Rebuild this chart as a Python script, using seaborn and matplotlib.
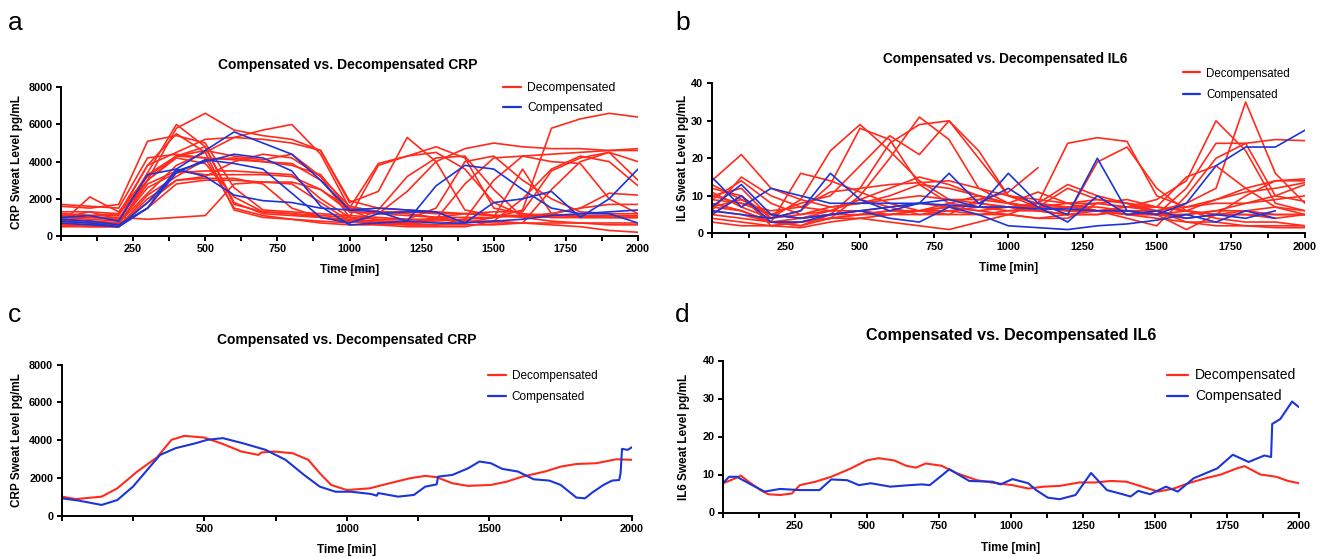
import pandas as pd
import matplotlib
matplotlib.use("Agg")
import matplotlib.pyplot as plt
from matplotlib.lines import Line2D
from matplotlib.ticker import MultipleLocator, FuncFormatter
import seaborn as sns

RED = '#FF2B1C'
BLUE = '#1B35D9'
GROUPS = ['Decompensated', 'Compensated']

# time points (min) for the per-patient curves in panels a and b
time_ab = list(range(0, 2001, 100))

# panel a: CRP sweat level per patient (pg/mL)
crp_decomp = [
    [1600, 1500, 1700, 5100, 5400, 5000, 2600, 1400, 1300, 1200, 1100, 1000, 900, 900, 800, 800, 700, 600, 500, 300, 200],
    [1200, 1100, 1200, 3000, 5800, 6600, 5700, 5400, 5200, 4600, 1900, 1500, 1400, 1300, 1200, 1100, 1100, 1000, 1000, 1000, 1000],
    [1000, 1300, 900, 3400, 6000, 4800, 1700, 1300, 1200, 1100, 1000, 3800, 4300, 4800, 4200, 1500, 1200, 1100, 1100, 1000, 1000],
    [800, 700, 700, 2300, 3800, 4500, 5300, 5700, 6000, 4400, 1500, 1300, 1300, 1200, 1200, 1100, 1100, 1100, 1100, 1100, 1100],
    [1000, 1000, 1000, 900, 1000, 1100, 2800, 2900, 2900, 2500, 1300, 1200, 2400, 4000, 4700, 5000, 4800, 4700, 4700, 4600, 4700],
    [700, 2100, 1300, 3200, 4300, 4600, 4300, 4100, 4400, 3200, 1600, 1300, 1200, 1000, 800, 700, 700, 700, 700, 700, 700],
    [600, 600, 600, 3000, 4200, 3900, 2100, 1300, 1200, 1000, 800, 700, 700, 600, 700, 1000, 1400, 5800, 6300, 6600, 6400],
    [900, 800, 700, 2800, 3500, 3300, 3300, 3300, 3200, 2500, 1500, 3900, 4300, 4500, 3600, 1800, 1100, 1000, 1000, 1000, 1000],
    [1300, 1300, 1200, 3800, 4500, 5200, 5300, 5200, 5000, 4600, 1800, 2400, 5300, 4000, 1400, 1100, 1000, 1200, 1500, 1700, 1700],
    [800, 700, 600, 1800, 3000, 3200, 4000, 4400, 4200, 3200, 1000, 700, 600, 600, 900, 3000, 4300, 4400, 4500, 4600, 4600],
    [600, 500, 500, 2200, 3200, 4100, 4200, 4000, 3800, 3300, 1400, 800, 700, 900, 2800, 4200, 4300, 4000, 3900, 2000, 1200],
    [1100, 1000, 900, 3000, 4300, 4800, 1800, 1200, 1100, 1000, 900, 800, 800, 800, 900, 1000, 3600, 1200, 1000, 1000, 1000],
    [700, 600, 500, 2000, 3000, 3100, 3100, 2800, 1500, 1000, 800, 700, 600, 600, 600, 600, 700, 2500, 4000, 4500, 4000],
    [1700, 1600, 1500, 4200, 4400, 4200, 4100, 4000, 3900, 3000, 1300, 1200, 1100, 1000, 1000, 1000, 1100, 1200, 1500, 2300, 2200],
    [900, 800, 700, 2600, 3400, 3500, 3500, 3400, 3300, 2000, 1000, 900, 900, 1500, 4000, 4300, 3000, 2000, 1300, 1200, 1200],
    [1000, 900, 800, 3300, 4300, 4200, 1500, 1100, 900, 700, 600, 600, 700, 1000, 1200, 1300, 1300, 3500, 4200, 4500, 3000],
    [500, 500, 500, 1500, 2800, 3000, 3000, 2900, 2800, 1800, 800, 600, 500, 500, 500, 800, 2000, 3600, 4300, 4000, 2700],
    [1200, 1100, 1100, 3800, 5500, 4500, 1400, 1000, 900, 800, 700, 1400, 3200, 4200, 4300, 2500, 1000, 800, 700, 600, 600],
]
crp_comp = [
    [1000, 1100, 800, 3300, 3600, 3200, 2200, 1900, 1800, 1500, 1400, 1500, 1400, 1300, 700, 1800, 2000, 2400, 1000, 2000, 3600],
    [900, 800, 600, 1500, 3600, 4600, 5600, 5000, 4400, 3000, 1400, 1300, 800, 2700, 3800, 3600, 2500, 1500, 1200, 1200, 700],
    [700, 600, 500, 1800, 3500, 4000, 4400, 4200, 3500, 1600, 600, 700, 800, 700, 700, 800, 900, 1100, 1200, 1300, 1400],
    [800, 700, 500, 1500, 3400, 4100, 3900, 3600, 2300, 1000, 700, 1200, 1300, 1300, None, None, None, None, None, None, None],
]

# panel b: IL6 sweat level per patient (pg/mL)
il6_decomp = [
    [14, 21, 12, 9, 7, 8, 10, 13, 12, 10, 8, 7, 6, 6, 5, 5, 4, 5, 6, 7, 6],
    [10, 8, 5, 4, 6, 9, 12, 15, 13, 10, 8, 7, 8, 9, 8, 7, 6, 5, 5, 5, 5],
    [12, 10, 4, 9, 22, 29, 22, 14, 9, 8, 7, 7, 6, 6, 5, 5, 5, 6, 6, 5, 5],
    [8, 6, 3, 2, 5, 12, 24, 29, 30, 20, 10, 8, 7, 7, 6, 5, 5, 6, 8, 10, 13],
    [6, 5, 3, 2, 4, 10, 20, 31, 25, 12, 8, 6, 5, 5, 6, 5, 6, 9, 12, 14, 14],
    [10, 12, 4, 6, 13, 28, 25, 13, 8, 7, 6, 6, 5, 6, 5, 4, 3, 3, 2, 2, 2],
    [7, 9, 5, 8, 10, 18, 26, 21, 30, 22, 10, 7, 6, 6, 7, 7, 6, 5, 5, 4, 5],
    [9, 8, 6, 7, 11, 12, 13, 13.5, 14, 12, 10, 9, 8, 8, 7, 6, 7, 9, 11, 12, 13.5],
    [5, 4, 3, 4, 5, 6, 7, 8, 7, 6, 7, 8, 24, 25.5, 24.5, 10, 7, 8, 8, 9, 10],
    [4, 3, 2, 3, 4, 5, 6, 6, 7, 6, 5, 4, 5, 19, 23, 12, 6, 4, 3, 3, 2],
    [11, 7, 4, 5, 7, 8, 9, 10, 9, 9, 11, 17.5, None, None, None, None, None, None, None, None, None],
    [3, 2, 2, 3, 4, 4, 5, 5, 6, 7, 7, 6, 5, 5, 6, 6, 8, 12, 35, 16, 8],
    [8, 6, 3, 3, 4, 5, 5, 6, 7, 8, 7, 6, 7, 8, 7, 9, 14, 30, 22, 8, 6],
    [13, 9, 5, 4, 5, 5, 6, 6, 5, 5, 6, 7, 7, 6, 6, 5, 12, 24, 24, 25, 24.7],
    [9, 14, 8, 5, 6, 9, 7, 5, 5, 9, 8, 7, 12, 9, 8, 6, 3, 2, 2, 1.5, 1.5],
    [5, 10, 2, 1.5, 3, 4, 3, 2, 1, 3, 5, 8, 13, 10, 8, 5, 1, 5, 10, 14, 14.5],
    [7, 6, 3, 16, 14, 11, 8, 6, 8, 10, 8, 11, 8, 6, 4, 2, 10, 20, 24, 10, 8.5],
    [6, 15, 10, 7, 6, 6, 5, 6, 6, 5, 5, 4, 4, 8, 9, 7, 15, 18, 12, 7, 5],
]
il6_comp = [
    [15, 7, 12, 10, 8, 8, 8, 8, 7.5, 7, 7, 6.5, 6.5, 6, 6, None, None, None, None, None, None],
    [6, 5, 4, 6, 16, 9, 6, 8, 16, 8, 12, 7, 3, 10, 5, 6, 4, 5, 4, 6, None],
    [7, 13, 5, 4, 5, 6, 7, 8, 9, 7, 16, 8, 5, 20, 6, 5, 8, 18, 23, 23, 27.5],
    [5, 10, 3, 3, 5, 6, 4, 3, 7, 5, 2, 1.5, 1, 2, 2.5, 3.5, 5, 3, 6, 4, None],
]

# panel c: mean CRP per group
crp_decomp_avg_t = [0, 50, 140, 195, 265, 335, 385, 430, 500, 565, 630, 690, 700, 745, 810, 865, 905, 945, 1000, 1080,
                    1150, 1220, 1275, 1315, 1370, 1425, 1505, 1560, 1615, 1695, 1750, 1805, 1875, 1945, 2000]
crp_decomp_avg = [1010, 880, 1010, 1450, 2340, 3100, 4020, 4230, 4140, 3800, 3400, 3220, 3350, 3400, 3310, 2960, 2250, 1630, 1360, 1450,
                  1720, 1980, 2110, 2040, 1720, 1580, 1630, 1800, 2070, 2340, 2600, 2740, 2780, 2990, 2960]
crp_comp_avg_t = [0, 60, 140, 195, 250, 320, 345, 400, 470, 510, 565, 635, 715, 785, 850, 905, 960, 1015, 1085, 1105,
                  1110, 1180, 1235, 1275, 1315, 1320, 1370, 1425, 1465, 1505, 1545, 1600, 1655, 1710, 1750, 1805, 1835, 1860, 1900, 1930,
                  1955, 1960, 1965, 1985, 2000]
crp_comp_avg = [920, 800, 570, 830, 1540, 2780, 3220, 3580, 3840, 4020, 4110, 3840, 3490, 2960, 2160, 1540, 1270, 1270, 1150, 1060,
                1200, 1010, 1100, 1540, 1660, 2070, 2160, 2510, 2870, 2780, 2480, 2340, 1930, 1860, 1630, 960, 920, 1220, 1630, 1860,
                1890, 2250, 3540, 3490, 3630]

# panel d: mean IL6 per group
il6_decomp_avg_t = [0, 27, 62, 89, 130, 157, 198, 239, 267, 321, 376, 444, 499, 540, 595, 636, 670, 704, 759, 813, 882,
                    950, 1005, 1060, 1114, 1169, 1237, 1292, 1347, 1401, 1456, 1511, 1565, 1620, 1675, 1729, 1784, 1811,
                    1866, 1921, 1962, 2000]
il6_decomp_avg = [7.7, 8.5, 9.7, 8.1, 5.9, 4.8, 4.6, 5.0, 7.2, 8.1, 9.4, 11.6, 13.7, 14.3, 13.7, 12.3, 11.8, 12.9, 12.3, 10.3, 8.5,
                  7.7, 7.2, 6.3, 6.8, 7.0, 7.9, 7.9, 8.3, 8.1, 6.8, 5.5, 6.3, 7.8, 9.0, 10.0, 11.6, 12.2,
                  10.0, 9.4, 8.3, 7.7]
il6_comp_avg_t = [0, 21, 48, 89, 144, 198, 267, 335, 376, 431, 472, 513, 581, 649, 690, 718, 759, 786, 855, 936, 964,
                  1005, 1060, 1087, 1128, 1169, 1224, 1278, 1333, 1388, 1415, 1442, 1483, 1538, 1579, 1634, 1675, 1716,
                  1770, 1825, 1880, 1903, 1907, 1935, 1976, 2000]
il6_comp_avg = [7.7, 9.4, 9.4, 7.7, 5.5, 6.2, 5.9, 5.9, 8.7, 8.5, 7.2, 7.7, 6.8, 7.2, 7.4, 7.2, 9.7, 11.4, 8.3, 8.1, 7.4,
                8.8, 7.7, 5.9, 3.9, 3.5, 4.6, 10.4, 5.9, 4.8, 4.2, 5.7, 4.8, 6.8, 5.5, 9.0, 10.3, 11.6,
                15.2, 13.3, 15.0, 14.6, 23.3, 24.6, 29.2, 27.7]


def patient_frame(decomp, comp):
    rows = []
    for group, curves in zip(GROUPS, [decomp, comp]):
        for i, vals in enumerate(curves):
            for t, v in zip(time_ab, vals):
                if v is not None:
                    rows.append((group, f'{group}_{i}', t, v))
    return pd.DataFrame(rows, columns=['group', 'patient', 'time', 'value'])


def mean_frame(decomp_t, decomp, comp_t, comp):
    a = pd.DataFrame({'group': GROUPS[0], 'time': decomp_t, 'value': decomp})
    b = pd.DataFrame({'group': GROUPS[1], 'time': comp_t, 'value': comp})
    return pd.concat([a, b], ignore_index=True)


sns.set_theme(style='ticks', rc={'axes.edgecolor': 'black', 'xtick.color': 'black', 'ytick.color': 'black',
                                 'text.color': 'black', 'axes.labelcolor': 'black'})
plt.rcParams['font.family'] = ['Liberation Sans', 'DejaVu Sans']
plt.rcParams['font.weight'] = 'bold'
plt.rcParams['axes.labelweight'] = 'bold'
plt.rcParams['axes.linewidth'] = 1.4

W, H = 1327, 557
fig = plt.figure(figsize=(W / 100, H / 100), dpi=100)


def px_axes(left, top, right, bottom):
    return fig.add_axes([left / W, 1 - bottom / H, (right - left) / W, (bottom - top) / H])


def finish_axis(ax, ymax, ystep, xstep, ylabel, ylab_x, xlab_y):
    ax.set_xlim(0, 2000)
    ax.set_ylim(0, ymax)
    ax.xaxis.set_major_locator(MultipleLocator(xstep))
    ax.xaxis.set_minor_locator(MultipleLocator(xstep / 2))
    ax.xaxis.set_major_formatter(FuncFormatter(lambda v, p: '' if v == 0 else f'{v:.0f}'))
    ax.yaxis.set_major_locator(MultipleLocator(ystep))
    ax.tick_params(which='both', direction='out', length=3.6, width=1.4, labelsize=7.8, pad=2.5)
    sns.despine(ax=ax)
    ax.set_xlabel('Time [min]', fontsize=8.5, va='center')
    ax.xaxis.set_label_coords(0.5, xlab_y)
    ax.set_ylabel(ylabel, fontsize=8.5, va='center')
    ax.yaxis.set_label_coords(ylab_x, 0.5)


def add_legend(ax, x, y, size, spacing):
    handles = [Line2D([], [], color=RED, lw=1.6), Line2D([], [], color=BLUE, lw=1.6)]
    ax.legend(handles, GROUPS, loc='upper left', bbox_to_anchor=(x / W, 1 - y / H),
              bbox_transform=fig.transFigure, frameon=False, prop={'size': size, 'weight': 'normal'},
              handlelength=1.5, handletextpad=0.5, labelspacing=spacing, borderpad=0, borderaxespad=0)


palette = {GROUPS[0]: RED, GROUPS[1]: BLUE}

# a
ax_a = px_axes(61, 87.3, 638, 236)
sns.lineplot(data=patient_frame(crp_decomp, crp_comp), x='time', y='value', hue='group', units='patient',
             estimator=None, hue_order=GROUPS, palette=palette, lw=1.2, legend=False, sort=False, ax=ax_a)
finish_axis(ax_a, 8000, 2000, 250, 'CRP Sweat Level pg/mL', -0.077, -0.229)
add_legend(ax_a, 503, 82, 8.7, 0.65)

# b
ax_b = px_axes(711.7, 83.3, 1305, 233.3)
sns.lineplot(data=patient_frame(il6_decomp, il6_comp), x='time', y='value', hue='group', units='patient',
             estimator=None, hue_order=GROUPS, palette=palette, lw=1.2, legend=False, sort=False, ax=ax_b)
finish_axis(ax_b, 40, 10, 250, 'IL6 Sweat Level pg/mL', -0.049, -0.231)
add_legend(ax_b, 1183, 67.5, 8.3, 0.8)

# c
ax_c = px_axes(61.7, 364.7, 632, 515.7)
sns.lineplot(data=mean_frame(crp_decomp_avg_t, crp_decomp_avg, crp_comp_avg_t, crp_comp_avg), x='time', y='value',
             hue='group', estimator=None, hue_order=GROUPS, palette=palette, lw=1.5, legend=False, sort=False, ax=ax_c)
finish_axis(ax_c, 8000, 2000, 500, 'CRP Sweat Level pg/mL', -0.079, -0.227)
add_legend(ax_c, 488, 370, 8.5, 0.75)

# d
ax_d = px_axes(723, 360.5, 1299, 512.5)
sns.lineplot(data=mean_frame(il6_decomp_avg_t, il6_decomp_avg, il6_comp_avg_t, il6_comp_avg), x='time', y='value',
             hue='group', estimator=None, hue_order=GROUPS, palette=palette, lw=1.5, legend=False, sort=False, ax=ax_d)
finish_axis(ax_d, 40, 10, 250, 'IL6 Sweat Level pg/mL', -0.068, -0.234)
add_legend(ax_d, 1167, 368.5, 10, 0.5)

# titles
fig.text(348 / W, 1 - 65 / H, 'Compensated vs. Decompensated CRP', ha='center', va='center', fontsize=10)
fig.text(1005 / W, 1 - 59.3 / H, 'Compensated vs. Decompensated IL6', ha='center', va='center', fontsize=9.8)
fig.text(347 / W, 1 - 340 / H, 'Compensated vs. Decompensated CRP', ha='center', va='center', fontsize=10)
fig.text(1011 / W, 1 - 335.6 / H, 'Compensated vs. Decompensated IL6', ha='center', va='center', fontsize=11.6)

# panel letters
for letter, x, y in [('a', 8, 30), ('b', 675, 30), ('c', 8, 322), ('d', 675, 322)]:
    fig.text(x / W, 1 - y / H, letter, fontsize=19, fontweight='normal', va='baseline')

fig.savefig('out.png', dpi=100)
